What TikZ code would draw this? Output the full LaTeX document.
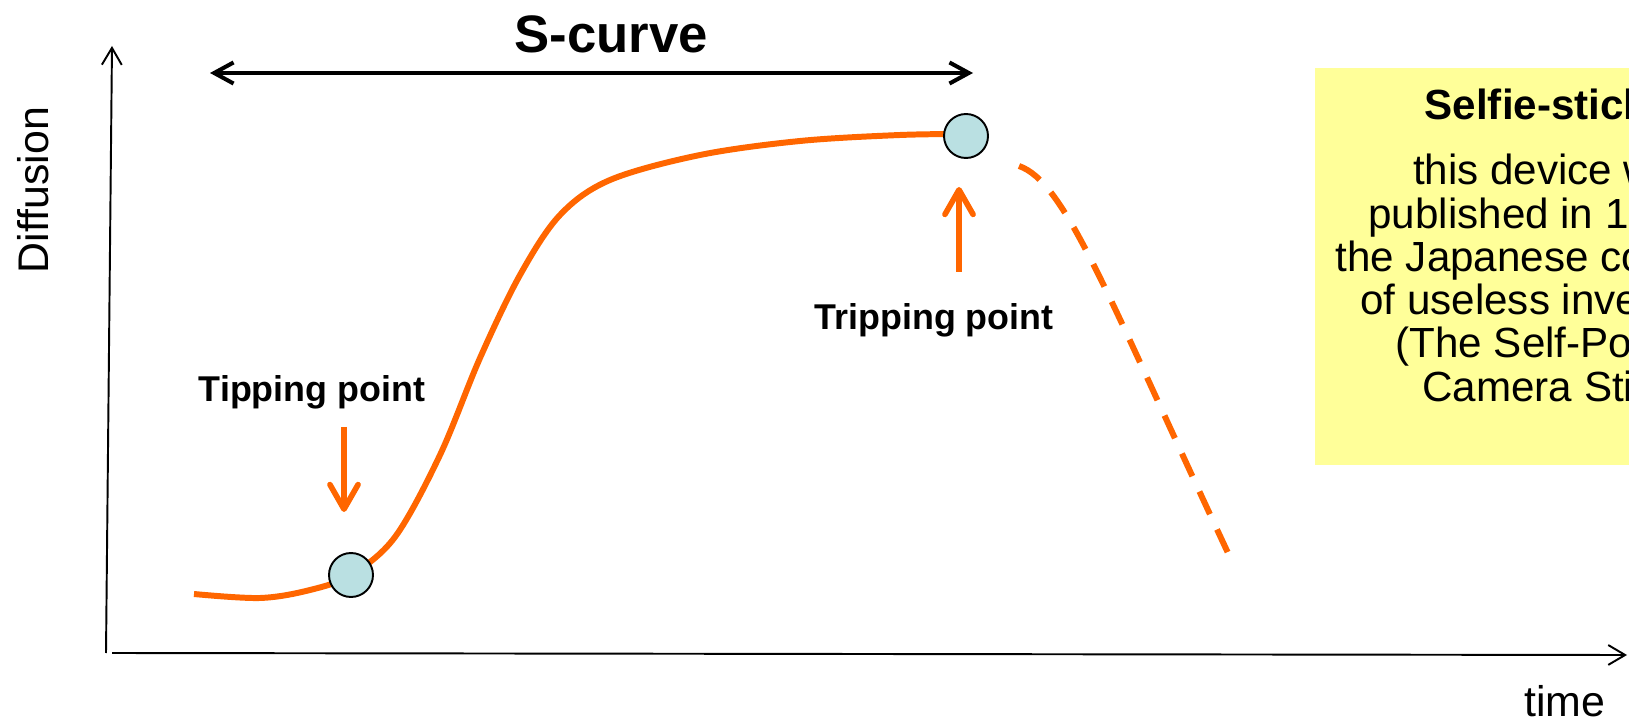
\documentclass[tikz,border=0pt]{standalone}
\usepackage{fontspec}
\setmainfont{Liberation Sans}
\usepackage{xcolor}
\usepackage{tikz}
\usetikzlibrary{arrows.meta,positioning}
\definecolor{curveOrange}{RGB}{255,102,0}
\definecolor{dotCyan}{RGB}{186,224,226}
\definecolor{noteYellow}{RGB}{255,255,153}

\begin{document}
\begin{tikzpicture}[x=0.02cm,y=-0.02cm,
  axis/.style={black, line width=1.1pt, -{Straight Barb[length=9.6pt,width=11.3pt]}},
  span/.style={black, line width=2.3pt, {Straight Barb[length=11pt,width=12pt]}-{Straight Barb[length=11pt,width=12pt]}},
  growth/.style={curveOrange, line width=3.4pt},
  pointer/.style={curveOrange, line width=3.2pt, -{Straight Barb[length=14pt,width=16pt,round]}},
  dot/.style={circle, draw=black, line width=1.1pt, fill=dotCyan, minimum size=0.88cm, inner sep=0pt},
  marklabel/.style={font=\bfseries\fontsize{20.4}{24}\selectfont},
  axislabel/.style={font=\fontsize{24.4}{28}\selectfont},
  notebox/.style={fill=noteYellow, minimum width=9.2cm, minimum height=7.94cm, inner sep=0pt}]
\clip (0,0) rectangle (1629,722);

% axes
\coordinate (origin) at (106,653);
\coordinate (ytop) at (112,46);
\coordinate (xstart) at (112,653);
\coordinate (xend) at (1627,655);
\draw[axis] (origin) -- (ytop);
\draw[axis] (xstart) -- (xend);
\node[axislabel, rotate=90] (ylabel) at (33,190) {Diffusion};
\node[axislabel] (xlabel) at (1565,701) {time};

% span of the S-curve
\coordinate (spanleft) at (210,73);
\coordinate (spanright) at (973,73);
\draw[span] (spanleft) -- (spanright);
\node[font=\bfseries\fontsize{30}{36}\selectfont] (spanlabel) at (611,34) {S-curve};

% growth curve and its decline
\draw[growth] plot[smooth, tension=0.55] coordinates {(194,594) (260,598) (310,590) (351,575) (395,537) (440,455) (480,358) (520,275) (560,215) (610,180) (700,155) (800,141) (900,135) (966,134)};
\coordinate (fallstart) at (1019,166);
\coordinate (fallend) at (1228,553);
\draw[growth, dash pattern=on 14.2pt off 9.6pt] (fallstart) .. controls (1065,182) and (1105,290) .. (fallend);

\node[dot] (tipdot) at (351,575) {};
\node[dot] (tripdot) at (966,136) {};

% markers
\node[marklabel, anchor=base] (tiplabel) at (312,402) {Tipping point};
\coordinate (tiptail) at (344,427);
\coordinate (tiphead) at (344,512);
\draw[pointer] (tiptail) -- (tiphead);

\node[marklabel, anchor=base] (triplabel) at (934,330) {Tripping point};
\coordinate (triptail) at (959,272);
\coordinate (triphead) at (959,187);
\draw[pointer] (triptail) -- (triphead);

% note
\node[notebox, anchor=north west] (note) at (1315,68) {};
\node[font=\bfseries\fontsize{24}{28}\selectfont, anchor=base] (notetitle) at (1536,120) {Selfie-stick};
\node[font=\fontsize{24}{24.6}\selectfont, align=center, anchor=north, inner sep=0pt] (notebody) at (1556,154)
  {this device was\\published in 1995 in\\the Japanese collection\\of useless inventions\\(The Self-Portrait\\Camera Stick)};
\end{tikzpicture}
\end{document}
